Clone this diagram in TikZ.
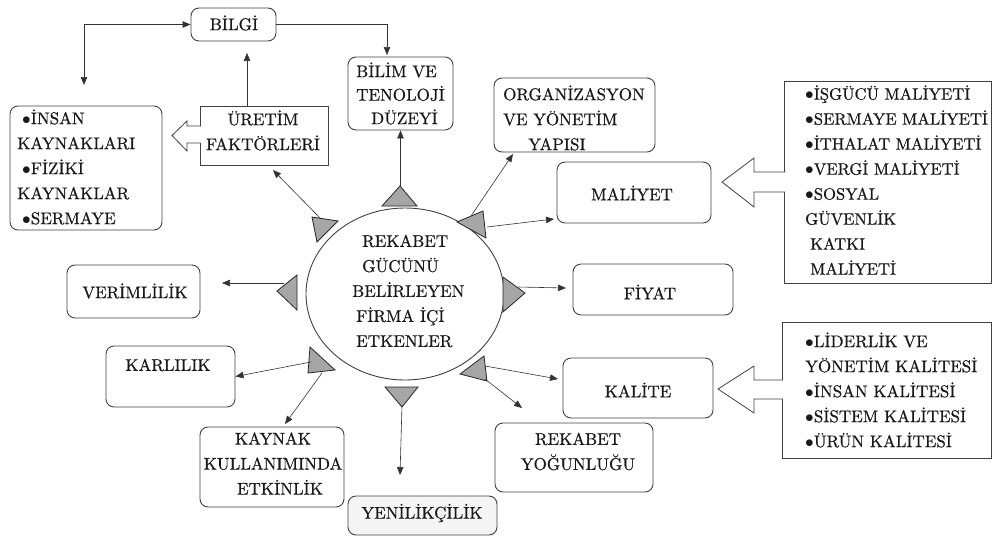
\documentclass[tikz,border=0pt]{standalone}
\usepackage{fontspec}
\newfontfamily\lmbold{lmroman10-regular.otf}[FakeBold=0.6]
\usetikzlibrary{arrows.meta,calc,shapes.geometric}
\begin{document}
\begin{tikzpicture}[x=1pt,y=-1pt,
  rbox/.style={draw=black!75, line width=0.9pt, rounded corners=8pt, inner sep=0pt, fill=white},
  sbox/.style={draw=black!75, line width=0.9pt, inner sep=0pt, fill=white},
  txt/.style={font=\lmbold\fontsize{17}{25}\selectfont, inner sep=0pt, text=black!90},
  tri/.style={draw=black!85, line width=0.8pt, fill=gray!70},
  arr/.style={-{Triangle[length=8pt,width=6.5pt]}, line width=0.6pt, draw=black!80},
  arrboth/.style={{Triangle[length=8pt,width=6.5pt]}-{Triangle[length=8pt,width=6.5pt]}, line width=0.6pt, draw=black!80},
  blk/.style={draw=black!75, line width=0.8pt, fill=white}
]
\useasboundingbox (0,0) rectangle (992,541);

% ---- central ellipse
\node[draw=black!75, line width=0.9pt, ellipse, minimum width=198pt, minimum height=172pt, inner sep=0pt] (core) at (405,294) {};
\node[txt, align=left, anchor=west] (coretxt) at (352,291)
  {\hspace{10pt}REKABET\\\hspace{10pt}GÜCÜNÜ\\BELİRLEYEN\\\hspace{4pt}FİRMA İÇİ\\\hspace{4pt}ETKENLER};

% ---- boxes
\node[rbox, minimum width=85pt, minimum height=33pt] (bilgi) at (233.5,24.5) {};
\node[txt] (bilgitxt) at (234,23) {BİLGİ};

\node[rbox, minimum width=105pt, minimum height=73pt] (bilim) at (400.5,93.5) {};
\node[txt, align=left, anchor=west, font=\lmbold\fontsize{17}{23.5}\selectfont] (bilimtxt) at (356,93.5)
  {BİLİM VE\\TENOLOJİ\\\hspace{15pt}DÜZEYİ};

\node[rbox, minimum width=161pt, minimum height=74pt] (org) at (574.5,115) {};
\node[txt, align=left, anchor=west] (orgtxt) at (503,118)
  {ORGANİZASYON\\VE YÖNETİM\\\hspace{25pt}YAPISI};

\node[rbox, minimum width=154pt, minimum height=61pt] (maliyet) at (634,192.5) {};
\node[txt] (maliyettxt) at (632,193) {MALİYET};

\node[rbox, minimum width=160pt, minimum height=51pt] (fiyat) at (653,289.5) {};
\node[txt] (fiyattxt) at (650,292) {FİYAT};

\node[rbox, minimum width=150pt, minimum height=60pt] (kalite) at (638,388) {};
\node[txt] (kalitetxt) at (638,390) {KALİTE};

\node[rbox, minimum width=158pt, minimum height=69pt] (yogun) at (574,457.5) {};
\node[txt, align=center] (yoguntxt) at (578,451.5) {REKABET\\YOĞUNLUĞU};

\node[rbox, fill=gray!8, minimum width=149pt, minimum height=39pt] (yenilik) at (422.5,515.5) {};
\node[txt] (yeniliktxt) at (422,513) {YENİLİKÇİLİK};

\node[rbox, minimum width=144pt, minimum height=80pt] (kaynak) at (272,467) {};
\node[txt, align=center] (kaynaktxt) at (273,463.5) {KAYNAK\\KULLANIMINDA\\\hspace{14pt}ETKİNLİK};

\node[rbox, minimum width=129pt, minimum height=61pt] (karlilik) at (170.5,376.5) {};
\node[txt] (karliliktxt) at (168,365) {KARLILIK};

\node[rbox, minimum width=133pt, minimum height=53pt] (verim) at (133.5,291.5) {};
\node[txt] (verimtxt) at (135,291) {VERİMLİLİK};

\node[rbox, minimum width=152pt, minimum height=124pt] (insan) at (86,168) {};
\node[txt, align=left, anchor=west] (insantxt) at (17,167)
  {\hspace{5pt}$\bullet$İNSAN\\KAYNAKLARI\\\hspace{5pt}$\bullet$FİZİKİ\\KAYNAKLAR\\\hspace{5pt}$\bullet$SERMAYE};

\node[sbox, minimum width=128pt, minimum height=59pt] (uretim) at (264,135.5) {};
\node[txt, align=center] (uretimtxt) at (263,130.5) {ÜRETİM\\FAKTÖRLERİ};

\node[sbox, minimum width=207pt, minimum height=202pt] (mlist) at (887.5,182) {};
\node[txt, align=left, anchor=west, font=\lmbold\fontsize{16.6}{25}\selectfont] (mlisttxt) at (805,180)
  {$\bullet$İŞGÜCÜ MALİYETİ\\$\bullet$SERMAYE MALİYETİ\\$\bullet$İTHALAT MALİYETİ\\$\bullet$VERGİ MALİYETİ\\$\bullet$SOSYAL\\GÜVENLİK\\\hspace{5pt}KATKI\\\hspace{5pt}MALİYETİ};

\node[sbox, minimum width=209pt, minimum height=136pt] (klist) at (886.5,390) {};
\node[txt, align=left, anchor=west] (klisttxt) at (805,390)
  {$\bullet$LİDERLİK VE\\YÖNETİM KALİTESİ\\$\bullet$İNSAN KALİTESİ\\$\bullet$SİSTEM KALİTESİ\\$\bullet$ÜRÜN KALİTESİ};

% ---- block arrows
\draw[blk] (201,126) -- (187,126) -- (187,121) -- (172,135.5) -- (187,151) -- (187,143) -- (201,143);
\draw[blk] (785,172) -- (754,172) -- (754,158) -- (722,182) -- (754,207) -- (754,192) -- (785,192);
\draw[blk] (783,380) -- (754,380) -- (754,366) -- (718,389) -- (754,413) -- (754,399) -- (783,399);

% ---- triangles around the ellipse
\draw[tri] (400,186) -- (382,206) -- (417,206) -- cycle;
\draw[tri] (312,217) -- (338,221) -- (317,242) -- cycle;
\draw[tri] (457,222) -- (483,211) -- (486,238) -- cycle;
\draw[tri] (277,291) -- (297,275) -- (297,310) -- cycle;
\draw[tri] (503,277) -- (525,293) -- (503,312) -- cycle;
\draw[tri] (460,374) -- (484,356) -- (487,381) -- cycle;
\draw[tri] (385,387) -- (418,387) -- (402,407) -- cycle;
\draw[tri] (310,347) -- (335,370) -- (308,373) -- cycle;

% ---- connector end points
\coordinate (t1) at (400.5,186);
\coordinate (t2) at (321,219);
\coordinate (t3a) at (471,216);
\coordinate (t3b) at (487,227);
\coordinate (t4) at (284,283);
\coordinate (t5) at (518,287);
\coordinate (t6a) at (485,366);
\coordinate (t6b) at (485,379);
\coordinate (t7) at (402,405);
\coordinate (t8a) at (322,373);
\coordinate (t8b) at (311,362);

\coordinate (uretimend) at (273,170);
\coordinate (orgend) at (513,154);
\coordinate (maliyetend) at (554,219);
\coordinate (fiyatend) at (566,288);
\coordinate (kaliteend) at (558,379);
\coordinate (yogunend) at (522,408);
\coordinate (yenilikend) at (400,475);
\coordinate (kaynakend) at (285,424);
\coordinate (verimend) at (222,283);
\coordinate (insanend) at (84,85);
\coordinate (bilimend) at (387,55);
\coordinate (uretimtop) at (247,106);
\coordinate (bilgiend) at (247,53);

% ---- connectors
\draw[arr] (t1) -- (bilim.south);
\draw[arr] (t2) -- (uretimend);
\draw[arr] (t3a) -- (orgend);
\draw[arr] (t3b) -- (maliyetend);
\draw[arr] (t5) -- (fiyatend);
\draw[arr] (t6a) -- (kaliteend);
\draw[arr] (t6b) -- (yogunend);
\draw[arr] (t7) -- (yenilikend);
\draw[arr] (t8a) -- (kaynakend);
\draw[arr] (t8b) -- (karlilik.east);
\draw[arr] (t4) -- (verimend);

\draw[arrboth] (insanend) |- (bilgi.west);
\draw[arr] (bilgi.east) -| (bilimend);
\draw[arr] (uretimtop) -- (bilgiend);
\end{tikzpicture}
\end{document}
